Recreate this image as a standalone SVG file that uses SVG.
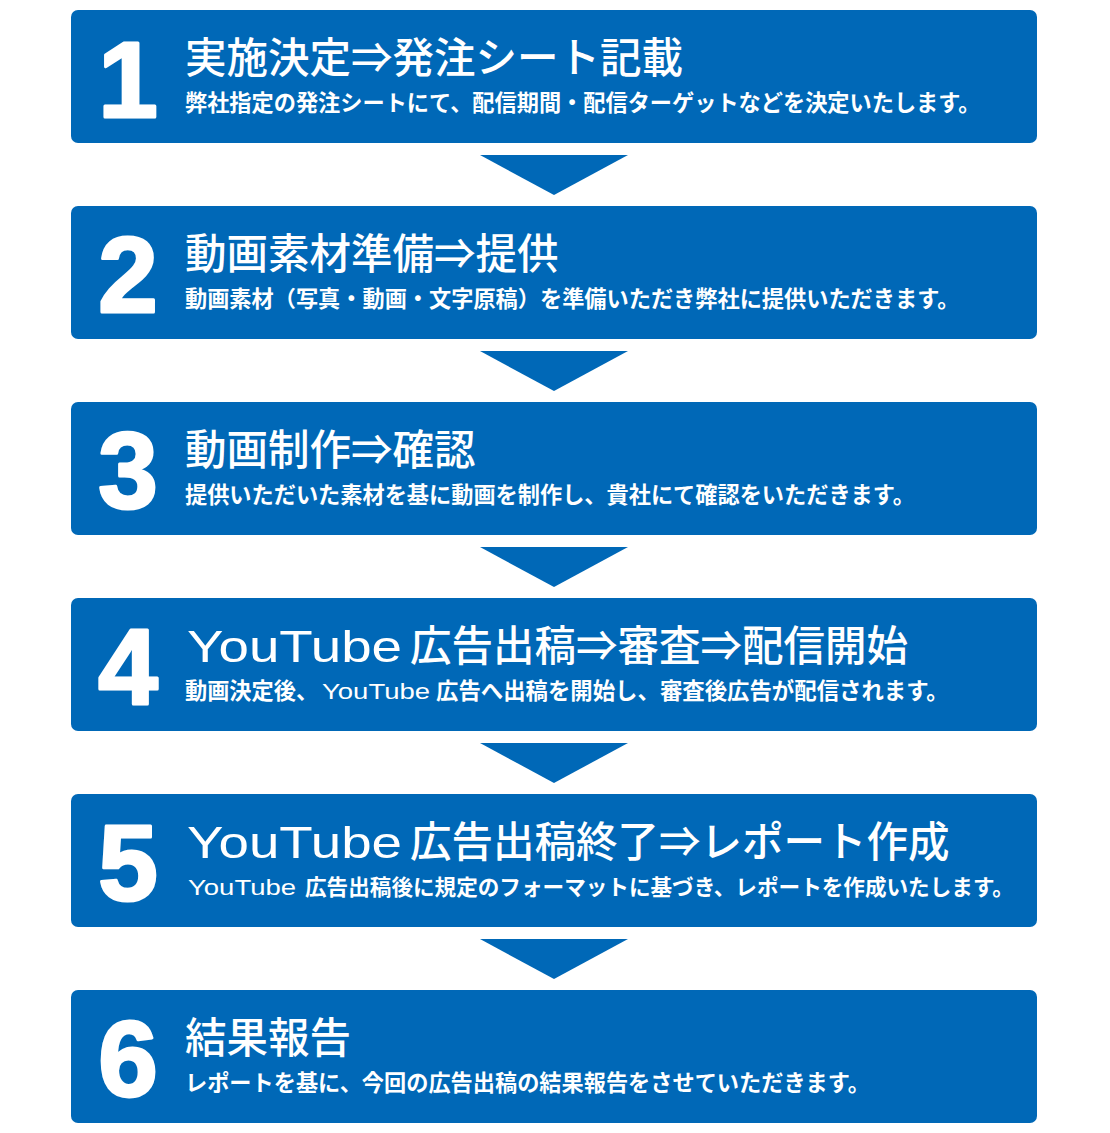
<svg xmlns="http://www.w3.org/2000/svg" width="1110" height="1133" viewBox="0 0 1110 1133">
<style>
.box{fill:#0068B7;}
.arrow{fill:#0068B7;}
.num{font-family:"Liberation Sans",Arial,sans-serif;font-weight:700;font-size:107px;fill:#fff;stroke:#fff;stroke-width:3;stroke-linejoin:round;text-anchor:middle;}
.title{font-family:"Noto Sans CJK JP",sans-serif;font-weight:500;font-size:41.5px;fill:#fff;}
.sub{font-family:"Noto Sans CJK JP",sans-serif;font-weight:700;font-size:22.2px;fill:#fff;}
.lat{font-family:"Liberation Sans",Arial,sans-serif;font-weight:400;fill:#fff;}
</style>
<rect width="1110" height="1133" fill="#fff"/>
<g id="connectors">
<polygon class="arrow" points="480,155 628,155 554,195"/>
<polygon class="arrow" points="480,351 628,351 554,391"/>
<polygon class="arrow" points="480,547 628,547 554,587"/>
<polygon class="arrow" points="480,743 628,743 554,783"/>
<polygon class="arrow" points="480,939 628,939 554,979"/>
</g>
<g id="step1">
<rect class="box" x="71" y="10" width="966" height="133" rx="7"/>
<text class="num" x="128" y="117">1</text>
<text class="title" x="185" y="73">実施決定⇒発注シート記載</text>
<text class="sub" x="185" y="111">弊社指定の発注シートにて、配信期間・配信ターゲットなどを決定いたします。</text>
</g>
<g id="step2">
<rect class="box" x="71" y="206" width="966" height="133" rx="7"/>
<text class="num" x="128" y="312">2</text>
<text class="title" x="185" y="269">動画素材準備⇒提供</text>
<text class="sub" x="185" y="307">動画素材（写真・動画・文字原稿）を準備いただき弊社に提供いただきます。</text>
</g>
<g id="step3">
<rect class="box" x="71" y="402" width="966" height="133" rx="7"/>
<text class="num" x="128" y="508">3</text>
<text class="title" x="185" y="465">動画制作⇒確認</text>
<text class="sub" x="185" y="503">提供いただいた素材を基に動画を制作し、貴社にて確認をいただきます。</text>
</g>
<g id="step4">
<rect class="box" x="71" y="598" width="966" height="133" rx="7"/>
<text class="num" x="128" y="704">4</text>
<text class="lat" x="187" y="662" font-size="44" textLength="215" lengthAdjust="spacingAndGlyphs">YouTube</text>
<text class="title" x="410" y="661">広告出稿⇒審査⇒配信開始</text>
<text class="sub" x="185" y="699">動画決定後、</text>
<text class="lat" x="322" y="699" font-size="22" textLength="108" lengthAdjust="spacingAndGlyphs">YouTube</text>
<text class="sub" x="436" y="699" style="font-size:22.4px">広告へ出稿を開始し、審査後広告が配信されます。</text>
</g>
<g id="step5">
<rect class="box" x="71" y="794" width="966" height="133" rx="7"/>
<text class="num" x="128" y="900">5</text>
<text class="lat" x="187" y="858" font-size="44" textLength="215" lengthAdjust="spacingAndGlyphs">YouTube</text>
<text class="title" x="410" y="857">広告出稿終了⇒レポート作成</text>
<text class="lat" x="188" y="895" font-size="22" textLength="108" lengthAdjust="spacingAndGlyphs">YouTube</text>
<text class="sub" x="305" y="895" style="font-size:21.6px">広告出稿後に規定のフォーマットに基づき、レポートを作成いたします。</text>
</g>
<g id="step6">
<rect class="box" x="71" y="990" width="966" height="133" rx="7"/>
<text class="num" x="128" y="1096">6</text>
<text class="title" x="185" y="1053">結果報告</text>
<text class="sub" x="185" y="1091">レポートを基に、今回の広告出稿の結果報告をさせていただきます。</text>
</g>
</svg>
